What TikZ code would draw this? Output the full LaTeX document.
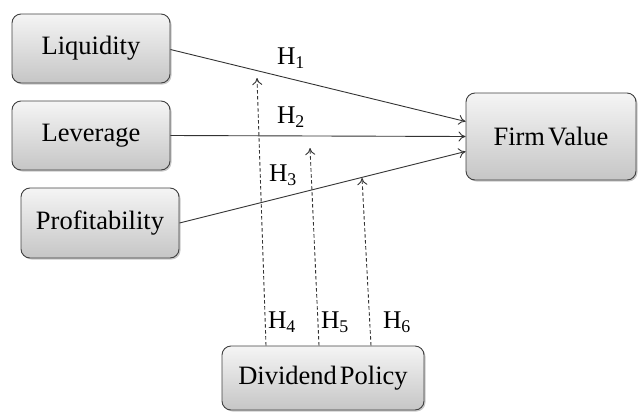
\documentclass[tikz,border=0pt]{standalone}
\usepackage{fontspec}
\setmainfont{Liberation Serif}
\usetikzlibrary{shadows,arrows.meta}
\begin{document}
\begin{tikzpicture}[x=1pt,y=-1pt,
  box/.style={draw=black!75, line width=0.9pt, rounded corners=9pt,
    top color=gray!8, bottom color=gray!45,
    drop shadow={shadow xshift=1.5pt, shadow yshift=-1.5pt, fill=black!35, opacity=0.6},
    font=\fontsize{26.5}{29}\selectfont, inner sep=0pt},
  conn/.style={draw=black!80, line width=0.9pt, -{To[length=7pt,width=10pt]}},
  dconn/.style={conn, dashed, dash pattern=on 3.5pt off 2.5pt},
  hlab/.style={font=\fontsize{25.5}{28}\selectfont, inner sep=0pt}]
\useasboundingbox (0,0) rectangle (638,413);
\node[box, minimum width=158pt, minimum height=69pt] (liq) at (91,48.5) {Liquidity};
\node[box, minimum width=158pt, minimum height=69pt] (lev) at (91,135.5) {Leverage};
\node[box, minimum width=158pt, minimum height=70pt] (pro) at (100,223) {Profitability};
\node[box, minimum width=170pt, minimum height=87pt] (fv) at (551,136.5) {Firm\hspace{3pt}Value};
\node[box, minimum width=202pt, minimum height=64pt] (dp) at (323,378) {Dividend\hspace{3pt}Policy};
\draw[conn] (liq.east) ++(0,1) -- ([yshift=15pt]fv.west);
\draw[conn] (lev.east) -- (fv.west);
\draw[conn] (pro.east) -- ([yshift=-15pt]fv.west);
\coordinate (t4) at (257,78);
\coordinate (t5) at (310,148);
\coordinate (t6) at (362,178);
\draw[dconn] ([xshift=-57pt]dp.north) -- (t4);
\draw[dconn] ([xshift=-4pt]dp.north) -- (t5);
\draw[dconn] ([xshift=48pt]dp.north) -- (t6);
\node[hlab] (h1) at (291,58) {H\textsubscript{1}};
\node[hlab] (h2) at (291,117) {H\textsubscript{2}};
\node[hlab] (h3) at (283,175) {H\textsubscript{3}};
\node[hlab] (h4) at (282,322) {H\textsubscript{4}};
\node[hlab] (h5) at (335,322) {H\textsubscript{5}};
\node[hlab] (h6) at (397,322) {H\textsubscript{6}};
\end{tikzpicture}
\end{document}
